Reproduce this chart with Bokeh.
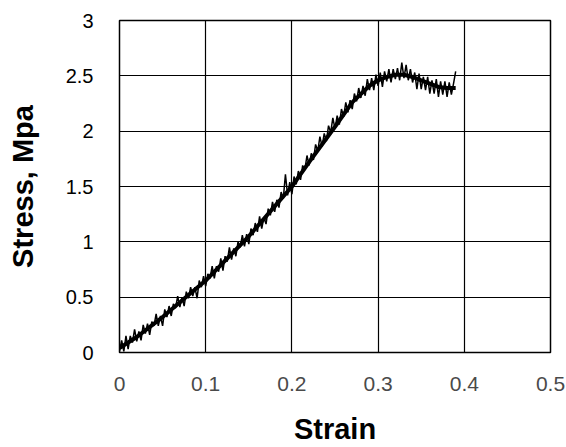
from bokeh.plotting import figure
from bokeh.models import FixedTicker, Range1d
from bokeh.embed import file_html
from bokeh.resources import INLINE

# ---- data ----
strain_raw = [
    0.0, 0.0025, 0.005, 0.0075, 0.01, 0.0125, 0.015, 0.0175, 0.02, 0.0225,
    0.025, 0.0275, 0.03, 0.0325, 0.035, 0.0375, 0.04, 0.0425, 0.045, 0.0475,
    0.05, 0.0525, 0.055, 0.0575, 0.06, 0.0625, 0.065, 0.0675, 0.07, 0.0725,
    0.075, 0.0775, 0.08, 0.0825, 0.085, 0.0875, 0.09, 0.0925, 0.095, 0.0975,
    0.1, 0.1025, 0.105, 0.1075, 0.11, 0.1125, 0.115, 0.1175, 0.12, 0.1225,
    0.125, 0.1275, 0.13, 0.1325, 0.135, 0.1375, 0.14, 0.1425, 0.145, 0.1475,
    0.15, 0.1525, 0.155, 0.1575, 0.16, 0.1625, 0.165, 0.1675, 0.17, 0.1725,
    0.175, 0.1775, 0.18, 0.1825, 0.185, 0.1875, 0.19, 0.1925, 0.195, 0.1975,
    0.2, 0.2025, 0.205, 0.2075, 0.21, 0.2125, 0.215, 0.2175, 0.22, 0.2225,
    0.225, 0.2275, 0.23, 0.2325, 0.235, 0.2375, 0.24, 0.2425, 0.245, 0.2475,
    0.25, 0.2525, 0.255, 0.2575, 0.26, 0.2625, 0.265, 0.2675, 0.27, 0.2725,
    0.275, 0.2775, 0.28, 0.2825, 0.285, 0.2875, 0.29, 0.2925, 0.295, 0.2975,
    0.3, 0.3025, 0.305, 0.3075, 0.31, 0.3125, 0.315, 0.3175, 0.32, 0.3225,
    0.325, 0.3275, 0.33, 0.3325, 0.335, 0.3375, 0.34, 0.3425, 0.345, 0.3475,
    0.35, 0.3525, 0.355, 0.3575, 0.36, 0.3625, 0.365, 0.3675, 0.37, 0.3725,
    0.375, 0.3775, 0.38, 0.3825, 0.385, 0.3875, 0.39]
stress_raw = [
    0.01, 0.11, 0.01, 0.15, 0.03, 0.15, 0.09, 0.21, 0.10, 0.19,
    0.11, 0.25, 0.17, 0.26, 0.16, 0.28, 0.24, 0.35, 0.24, 0.33,
    0.24, 0.39, 0.32, 0.42, 0.33, 0.44, 0.40, 0.51, 0.41, 0.50,
    0.42, 0.55, 0.49, 0.59, 0.51, 0.59, 0.49, 0.65, 0.59, 0.69,
    0.60, 0.71, 0.67, 0.78, 0.67, 0.78, 0.73, 0.85, 0.74, 0.87,
    0.82, 0.95, 0.84, 0.94, 0.87, 1.00, 0.95, 1.06, 0.96, 1.07,
    0.98, 1.12, 1.06, 1.17, 1.09, 1.23, 1.12, 1.22, 1.16, 1.30,
    1.24, 1.36, 1.27, 1.38, 1.31, 1.45, 1.39, 1.61, 1.42, 1.54,
    1.43, 1.59, 1.52, 1.64, 1.56, 1.69, 1.65, 1.78, 1.69, 1.80,
    1.74, 1.88, 1.82, 1.95, 1.86, 1.98, 1.91, 2.05, 1.99, 2.12,
    2.02, 2.14, 2.06, 2.20, 2.13, 2.26, 2.17, 2.28, 2.20, 2.34,
    2.27, 2.39, 2.30, 2.41, 2.32, 2.47, 2.37, 2.48, 2.37, 2.51,
    2.41, 2.53, 2.40, 2.54, 2.45, 2.56, 2.44, 2.56, 2.47, 2.57,
    2.46, 2.62, 2.48, 2.60, 2.46, 2.56, 2.44, 2.53, 2.38, 2.52,
    2.38, 2.49, 2.37, 2.49, 2.34, 2.46, 2.34, 2.47, 2.31, 2.45,
    2.33, 2.45, 2.31, 2.44, 2.33, 2.43, 2.54]

strain_fit = [0.0, 0.02, 0.05, 0.08, 0.10, 0.12, 0.15, 0.18, 0.20, 0.22,
              0.25, 0.27, 0.29, 0.30, 0.31, 0.32, 0.33, 0.34, 0.35, 0.36,
              0.37, 0.38, 0.39]
stress_fit = [0.04, 0.14, 0.32, 0.52, 0.65, 0.81, 1.05, 1.32, 1.50, 1.72,
              2.04, 2.26, 2.41, 2.46, 2.49, 2.51, 2.51, 2.49, 2.46, 2.43,
              2.40, 2.39, 2.39]

x_ticks = [0, 0.1, 0.2, 0.3, 0.4, 0.5]
x_tick_labels = ["0", "0.1", "0.2", "0.3", "0.4", "0.5"]
y_ticks = [0, 0.5, 1, 1.5, 2, 2.5, 3]
y_tick_labels = ["0", "0.5", "1", "1.5", "2", "2.5", "3"]

# ---- figure ----
p = figure(width=566, height=447, output_backend="svg", toolbar_location=None,
           x_range=Range1d(0, 0.5), y_range=Range1d(0, 3),
           min_border_left=119, min_border_right=16,
           min_border_top=20, min_border_bottom=94)
p.outline_line_color = "black"
p.outline_line_width = 1.5

p.line(strain_raw, stress_raw, line_color="black", line_width=1.5)
p.line(strain_fit, stress_fit, line_color="black", line_width=4)

p.xaxis.ticker = FixedTicker(ticks=x_ticks)
p.yaxis.ticker = FixedTicker(ticks=y_ticks)
p.xaxis.major_label_overrides = dict(zip(x_ticks, x_tick_labels))
p.yaxis.major_label_overrides = dict(zip(y_ticks, y_tick_labels))

for ax in (p.xaxis[0], p.yaxis[0]):
    ax.axis_line_color = None
    ax.major_tick_line_color = None
    ax.minor_tick_line_color = None
    ax.major_label_text_font = "Liberation Sans"
    ax.major_label_text_color = "black"
    ax.axis_label_text_font = "Liberation Sans"
    ax.axis_label_text_font_style = "bold"
    ax.axis_label_text_color = "black"

p.xaxis.major_label_text_font_size = "21px"
p.xaxis.major_label_text_color = "#4a4a4a"
p.xaxis.major_label_standoff = 18
p.yaxis.major_label_text_font_size = "20px"
p.yaxis.major_label_standoff = 20

p.xaxis.axis_label = "Strain"
p.xaxis.axis_label_text_font_size = "29px"
p.xaxis.axis_label_standoff = 19
p.yaxis.axis_label = "Stress, Mpa"
p.yaxis.axis_label_text_font_size = "29px"
p.yaxis.axis_label_standoff = 24

p.xgrid.ticker = FixedTicker(ticks=x_ticks)
p.ygrid.ticker = FixedTicker(ticks=y_ticks)
p.grid.grid_line_color = "black"
p.grid.grid_line_width = 1.2
p.grid.grid_line_alpha = 1.0

open("out.html", "w").write(file_html(p, INLINE))
